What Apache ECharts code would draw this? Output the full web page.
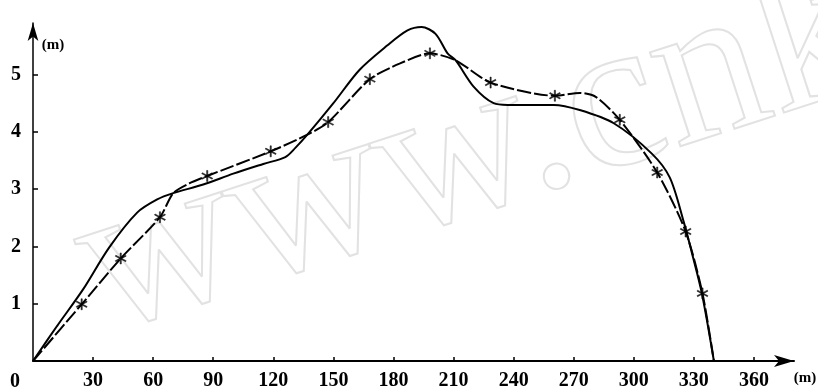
<!DOCTYPE html>
<html>
<head>
<meta charset="utf-8">
<script src="https://cdn.jsdelivr.net/npm/echarts@6/dist/echarts.min.js"></script>
<style>
  html, body { margin: 0; padding: 0; background: #fff; }
  #main { width: 818px; height: 391px; }
</style>
</head>
<body>
<div id="main"></div>
<script>
// tick labels
var xTicks = [0, 30, 60, 90, 120, 150, 180, 210, 240, 270, 300, 330, 360];
var yTicks = [0, 1, 2, 3, 4, 5];

// measured points marked with *
var starX = [24.3, 43.8, 63.4, 87, 118.7, 147.4, 168.2, 198.2, 228.5, 260.6, 293, 311.7, 325.9, 334.3];
var starY = [0.99, 1.79, 2.51, 3.23, 3.66, 4.17, 4.92, 5.37, 4.86, 4.63, 4.21, 3.29, 2.26, 1.18];
// extra points on the * curve (ends and bends between markers)
var starBendX = [0, 70, 78, 137, 183, 211, 273, 281, 340];
var starBendY = [0, 2.93, 3.1, 3.95, 5.19, 5.25, 4.68, 4.61, 0];

// the other (plain) curve
var plainX = [0, 12, 25, 38, 52, 62, 70, 85, 100, 115, 126, 131, 137, 150, 163, 177, 187, 194, 201, 207, 211, 220, 230, 237, 260, 273, 290, 309, 318, 325, 329, 334, 340];
var plainY = [0, 0.61, 1.25, 1.98, 2.59, 2.82, 2.93, 3.08, 3.27, 3.44, 3.56, 3.72, 3.95, 4.5, 5.08, 5.51, 5.77, 5.83, 5.71, 5.37, 5.25, 4.79, 4.5, 4.47, 4.47, 4.38, 4.15, 3.62, 3.2, 2.42, 1.89, 1.18, 0];

var starPts = starX.map(function (x, i) { return [x, starY[i]]; });
var starLine = starPts.concat(starBendX.map(function (x, i) { return [x, starBendY[i]]; }))
  .sort(function (a, b) { return a[0] - b[0]; });
var plainLine = plainX.map(function (x, i) { return [x, plainY[i]]; });

var asterisk = 'path://M9 0L11 0L11 20L9 20Z' +
  'M0.84 5.87L1.84 4.13L19.16 14.13L18.16 15.87Z' +
  'M0.84 14.13L18.16 4.13L19.16 5.87L1.84 15.87Z';

var labelFont = { fontFamily: 'Liberation Serif', fontWeight: 'bold', fontSize: 20, color: '#000' };

var chart = echarts.init(document.getElementById('main'));
var option = {
  animation: false,
  backgroundColor: '#fff',
  grid: { left: 33, right: 24, top: 23, bottom: 29, containLabel: false },
  xAxis: {
    type: 'value',
    min: 0,
    max: 380,
    interval: 30,
    splitLine: { show: false },
    axisLine: { lineStyle: { color: '#000', width: 2 }, symbol: ['none', 'arrow'], symbolSize: [9, 20] },
    axisTick: { inside: true, length: 4, lineStyle: { color: '#000', width: 1.5 } },
    axisLabel: Object.assign({
      margin: 10,
      showMinLabel: false,
      showMaxLabel: false,
      formatter: function (v) { return xTicks.indexOf(v) >= 0 ? String(v) : ''; }
    }, labelFont)
  },
  yAxis: {
    type: 'value',
    min: 0,
    max: 5.9,
    interval: 1,
    splitLine: { show: false },
    axisLine: { lineStyle: { color: '#000', width: 1.5 }, symbol: ['none', 'arrow'], symbolSize: [8, 18] },
    axisTick: { inside: true, length: 5, lineStyle: { color: '#000', width: 1.5 } },
    axisLabel: Object.assign({
      margin: 12,
      showMinLabel: false,
      showMaxLabel: false,
      formatter: function (v) { return yTicks.indexOf(v) > 0 ? String(v) : ''; }
    }, labelFont)
  },
  graphic: [
    {
      type: 'text', z: -10, x: 120, y: 382, rotation: 18 * Math.PI / 180,
      style: { text: 'www.cnki', font: '215px "Liberation Serif"', fill: 'none', stroke: '#e2e2e2', lineWidth: 2, verticalAlign: 'bottom' }
    },
    { type: 'text', x: 15, y: 382, style: { text: '0', font: 'bold 20px "Liberation Serif"', fill: '#000', align: 'center', verticalAlign: 'middle' } },
    { type: 'text', x: 53, y: 45, style: { text: '(m)', font: 'bold 15px "Liberation Serif"', fill: '#000', align: 'center', verticalAlign: 'middle' } },
    { type: 'text', x: 805, y: 378, style: { text: '(m)', font: 'bold 15px "Liberation Serif"', fill: '#000', align: 'center', verticalAlign: 'middle' } }
  ],
  series: [
    {
      name: 'plain',
      type: 'line',
      data: plainLine,
      smooth: 0.3,
      showSymbol: false,
      lineStyle: { color: '#000', width: 2 }
    },
    {
      name: 'star-line',
      type: 'line',
      data: starLine,
      smooth: 0.25,
      showSymbol: false,
      lineStyle: { color: '#000', width: 2, type: [14, 3] }
    },
    {
      name: 'star',
      type: 'scatter',
      data: starPts,
      symbol: asterisk,
      symbolSize: 11,
      itemStyle: { color: '#000', borderColor: '#000', borderWidth: 0.6 }
    }
  ]
};
chart.setOption(option);
</script>
</body>
</html>
